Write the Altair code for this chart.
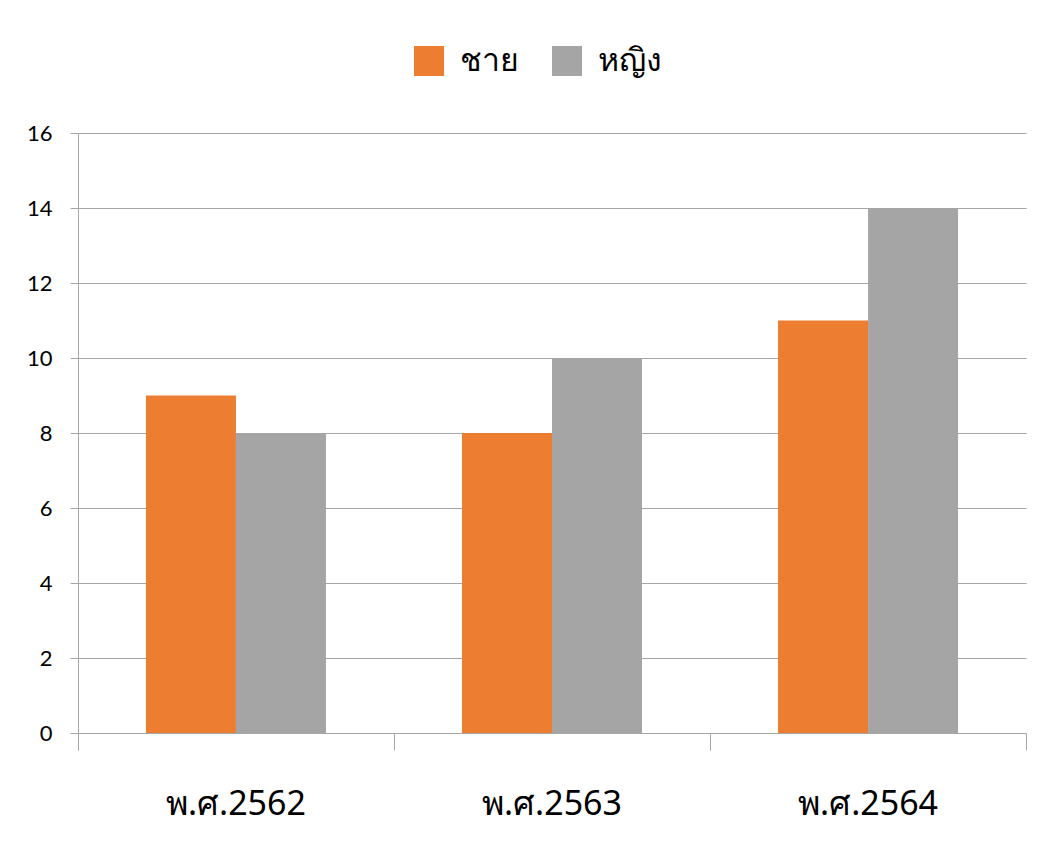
import altair as alt
import pandas as pd

years = ["พ.ศ.2562", "พ.ศ.2563", "พ.ศ.2564"]
series = ["ชาย", "หญิง"]
male = [9, 8, 11]
female = [8, 10, 14]
colors = ["#ED7D31", "#A5A5A5"]
y_ticks = [0, 2, 4, 6, 8, 10, 12, 14, 16]
boundaries = [0, 1, 2, 3]

rows = []
for i, yr in enumerate(years):
    rows.append({"year": yr, "sex": series[0], "value": male[i]})
    rows.append({"year": yr, "sex": series[1], "value": female[i]})
df = pd.DataFrame(rows)
bdf = pd.DataFrame({"b": boundaries})

bars = alt.Chart(df).mark_bar().encode(
    x=alt.X("year:N", sort=years,
            scale=alt.Scale(paddingInner=0.4304, paddingOuter=0.215),
            axis=alt.Axis(title=None, orient="bottom", labelAngle=0, ticks=False, domain=False,
                          labelFontSize=34, labelColor="#000000", labelPadding=54,
                          labelFont="Noto Sans", labelFontWeight="normal")),
    xOffset=alt.XOffset("sex:N", sort=series, scale=alt.Scale(paddingInner=0, paddingOuter=0)),
    y=alt.Y("value:Q", scale=alt.Scale(domain=[0, 16], nice=False),
            axis=alt.Axis(title=None, values=y_ticks, grid=True, gridColor="#A6A6A6",
                          domain=True, domainColor="#A6A6A6", tickColor="#A6A6A6",
                          tickSize=8, labelPadding=18, labelFontSize=22,
                          labelColor="#000000", labelFont="Lato")),
    color=alt.Color("sex:N", sort=series,
                    scale=alt.Scale(domain=series, range=colors),
                    legend=alt.Legend(title=None, orient="none", legendX=335, legendY=-88,
                                      direction="horizontal", symbolType="square",
                                      symbolSize=900, symbolStrokeWidth=0,
                                      labelFontSize=32, labelFont="Noto Sans",
                                      labelColor="#000000", labelOffset=15,
                                      columnPadding=32)),
)

ticks = alt.Chart(bdf).mark_tick(opacity=0).encode(
    x=alt.X("b:Q", scale=alt.Scale(domain=[0, 3], nice=False, zero=False),
            axis=alt.Axis(title=None, orient="bottom", values=boundaries, labels=False,
                          grid=False, domain=True, domainColor="#A6A6A6",
                          tickColor="#A6A6A6", tickSize=17)),
)

chart = alt.layer(bars, ticks).resolve_scale(x="independent").properties(
    width=948, height=600,
    autosize=alt.AutoSizeParams(type="none"),
    padding={"left": 70, "top": 125, "right": 5, "bottom": 100},
).configure_view(stroke=None).configure_axis(gridWidth=1)

chart.save("out.html", embed_options={"renderer": "svg", "actions": False})
